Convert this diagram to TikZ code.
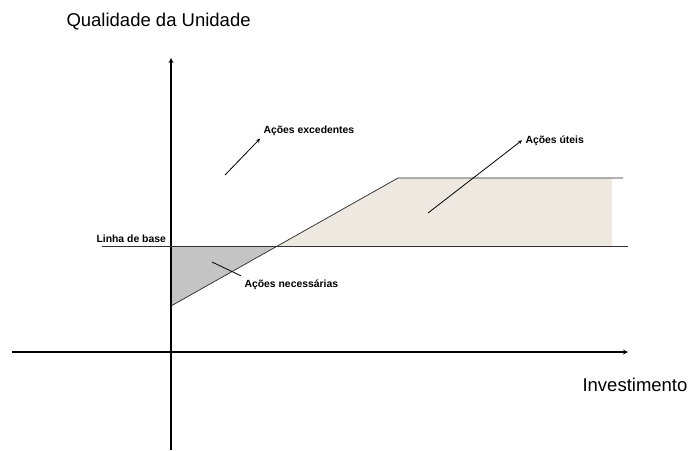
\documentclass[tikz,border=0pt]{standalone}
\usepackage{fontspec}
\setmainfont{Liberation Sans}
\definecolor{utilfill}{RGB}{238,233,224}
\definecolor{necfill}{RGB}{196,196,196}

\begin{document}
\begin{tikzpicture}[x=1pt, y=-1pt, >=stealth]
    \useasboundingbox (0,0) rectangle (688,450);

    % regions
    \fill[necfill] (171,247) -- (275,247) -- (171,306) -- cycle;
    \fill[utilfill] (275,247) -- (398,178) -- (612,178) -- (612,247) -- cycle;

    % axes
    \coordinate (O) at (171,352);
    \coordinate (Y) at (171,58);
    \coordinate (YB) at (171,450);
    \coordinate (XL) at (12,352);
    \coordinate (X) at (628,352);
    \draw[line width=1.2pt,->] (YB) -- (Y);
    \draw[line width=1.2pt,->] (XL) -- (X);
    \node[anchor=base west, font=\fontsize{18.5}{20}\selectfont] (Q) at (63,26) {Qualidade da Unidade};
    \node[anchor=base west, font=\fontsize{18.5}{20}\selectfont] (I) at (579,391) {Investimento};

    % base line and curve
    \coordinate (B1) at (102,246);
    \coordinate (B2) at (628,246);
    \coordinate (C0) at (171,306);
    \coordinate (C1) at (398,178);
    \coordinate (C2) at (623,178);
    \draw[black!80, line width=0.9pt] (B1) -- (B2);
    \draw[black!85, line width=0.7pt] (C0) -- (C1) -- (C2);
    \node[anchor=base west, font=\bfseries\fontsize{10.4}{12}\selectfont] (L) at (93,242) {Linha de base};

    % labels
    \node[anchor=base west, font=\bfseries\fontsize{10.4}{12}\selectfont] (N) at (241,287) {Ações necessárias};
    \node[anchor=base west, font=\bfseries\fontsize{10.4}{12}\selectfont] (E) at (260,133) {Ações excedentes};
    \node[anchor=base west, font=\bfseries\fontsize{10.4}{12}\selectfont] (U) at (522,143) {Ações úteis};
    \coordinate (n0) at (212,262);
    \coordinate (e0) at (225,175);
    \coordinate (u0) at (428,213);
    \draw[line width=0.8pt] (n0) -- (N.north west);
    \draw[line width=0.8pt,->] (e0) -- (E.south west);
    \draw[line width=0.8pt,->] (u0) -- (U.west);

\end{tikzpicture}
\end{document}
